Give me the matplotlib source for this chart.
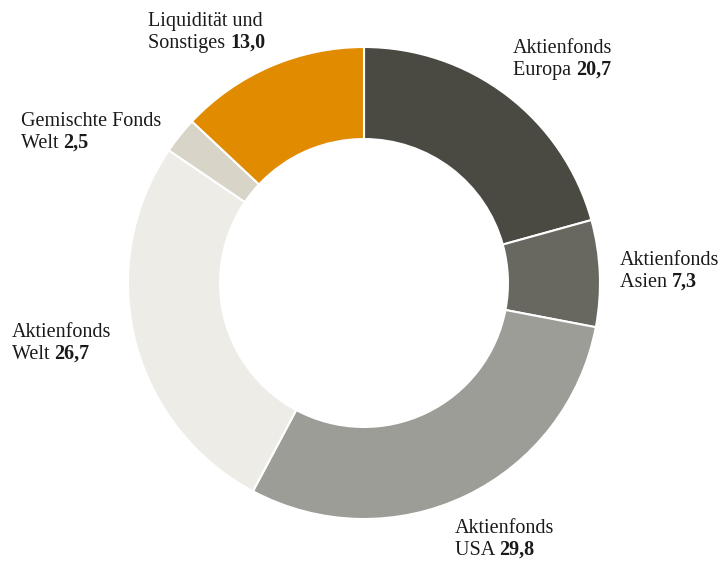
import matplotlib
matplotlib.use("Agg")
import matplotlib.pyplot as plt

# ── Daten ──
kategorien = ["Aktienfonds\nEuropa", "Aktienfonds\nAsien", "Aktienfonds\nUSA",
              "Aktienfonds\nWelt", "Gemischte Fonds\nWelt", "Liquidität und\nSonstiges"]
werte = [20.7, 7.3, 29.8, 26.7, 2.5, 13.0]
farben = ["#4a4a43", "#686861", "#9c9d97", "#eeece6", "#d8d4c8", "#e08b00"]

# Beschriftungspositionen (Pixel, Grundlinie der ersten Zeile)
label_pos = [(513, 53), (620, 265), (455, 533), (12, 337), (21, 126), (148, 26)]

W, H = 726, 565
plt.rcParams['font.family'] = ['Liberation Serif', 'DejaVu Serif']

fig = plt.figure(figsize=(W / 100, H / 100), dpi=100)
ax = fig.add_axes([0, 0, 1, 1])

ax.pie(werte, colors=farben, startangle=90, counterclock=False,
       center=(364, H - 283), radius=236, frame=True,
       wedgeprops=dict(width=236 * 0.39, edgecolor='white', linewidth=1.5))
ax.set_xlim(0, W)
ax.set_ylim(0, H)
ax.set_aspect('equal')
ax.axis('off')

fs = 14.5
zeilenabstand = 22
renderer = fig.canvas.get_renderer()
for name, wert, (x, y) in zip(kategorien, werte, label_pos):
    z1, z2 = name.split("\n")
    ax.text(x, H - y, z1, fontsize=fs, color='#1a1a1a', va='baseline', ha='left')
    t = ax.text(x, H - y - zeilenabstand, z2 + " ", fontsize=fs, color='#1a1a1a',
                va='baseline', ha='left')
    bb = t.get_window_extent(renderer=renderer)
    x2 = ax.transData.inverted().transform((bb.x1, bb.y0))[0]
    ax.text(x2, H - y - zeilenabstand, f"{wert:.1f}".replace(".", ","), fontsize=fs,
            fontweight='bold', color='#1a1a1a', va='baseline', ha='left')

plt.savefig("out.png", dpi=100)
